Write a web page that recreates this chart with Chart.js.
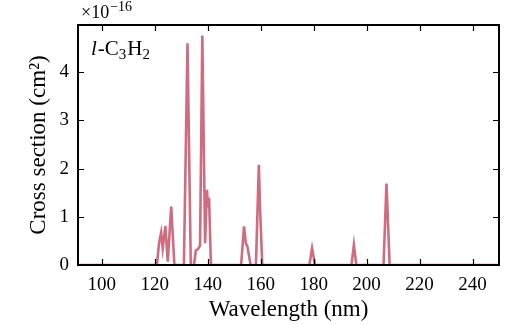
<!DOCTYPE html>
<html>
<head>
<meta charset="utf-8">
<script src="https://cdn.jsdelivr.net/npm/chart.js@4"></script>
<style>
  html, body { margin: 0; padding: 0; background: #fff; }
  #wrap { width: 525px; height: 324px; }
</style>
</head>
<body>
<div id="wrap"><canvas id="chart" width="525" height="324"></canvas></div>
<script>
// Absorption spectrum of l-C3H2, cross section in units of 1e-16 cm^2
const wavelength = [91, 120.8, 121.6, 122.4, 123.0, 124.0, 124.9, 126.2, 127.4,
  131.0, 132.35, 133.6, 134.8, 135.5, 136.3, 137.1, 137.95, 139.0, 139.7, 140.1, 140.5, 141.2,
  152.6, 153.7, 154.4, 155.0, 156.2, 158.2, 159.3, 159.8, 160.6,
  178.4, 179.4, 180.5, 194.3, 195.2, 196.1, 206.4, 207.5, 208.7, 250];
const crossSection = [0, 0, 0.45, 0.67, 0.35, 0.81, 0.07, 1.21, 0,
  0, 4.6, 0, 0, 0.3, 0.33, 0.4, 4.76, 0.45, 1.56, 1.2, 1.4, 0,
  0, 0.8, 0.45, 0.38, 0, 0, 2.08, 1.1, 0,
  0, 0.35, 0, 0, 0.42, 0, 0, 1.69, 0, 0];

const xTicks = [100, 120, 140, 160, 180, 200, 220, 240];
const yTicks = [0, 1, 2, 3, 4];

const serif = '"Liberation Serif", "DejaVu Serif", serif';

// matplotlib-like frame with inward ticks, plus the text annotations
const framePlugin = {
  id: 'frame',
  afterDatasetsDraw(chart) {
    const { ctx, chartArea: a, scales } = chart;
    ctx.save();
    ctx.strokeStyle = '#000';
    ctx.lineWidth = 1.2;
    const tl = 6;
    ctx.beginPath();
    xTicks.forEach(v => {
      const px = Math.round(scales.x.getPixelForValue(v)) + 0.5;
      ctx.moveTo(px, a.bottom); ctx.lineTo(px, a.bottom - tl);
      ctx.moveTo(px, a.top); ctx.lineTo(px, a.top + tl);
    });
    yTicks.forEach(v => {
      const py = Math.round(scales.y.getPixelForValue(v)) + 0.5;
      ctx.moveTo(a.left, py); ctx.lineTo(a.left + tl, py);
      ctx.moveTo(a.right, py); ctx.lineTo(a.right - tl, py);
    });
    ctx.stroke();
    ctx.lineWidth = 2;
    ctx.strokeRect(a.left, a.top, a.right - a.left, a.bottom - a.top);

    // offset text above the y axis
    ctx.fillStyle = '#000';
    ctx.textBaseline = 'alphabetic';
    ctx.font = '18px ' + serif;
    ctx.fillText('\u00d710', a.left + 3, a.top - 7);
    const w1 = ctx.measureText('\u00d710').width;
    ctx.font = '14px ' + serif;
    ctx.fillText('\u221216', a.left + 4 + w1, a.top - 14);

    // molecule label
    let x = a.left + 13;
    const y = a.top + 30;
    ctx.font = 'italic 21px ' + serif;
    ctx.fillText('l', x, y); x += ctx.measureText('l').width + 1;
    ctx.font = '21px ' + serif;
    ctx.fillText('-C', x, y); x += ctx.measureText('-C').width;
    ctx.font = '15px ' + serif;
    ctx.fillText('3', x, y + 4); x += ctx.measureText('3').width + 1;
    ctx.font = '21px ' + serif;
    ctx.fillText('H', x, y); x += ctx.measureText('H').width;
    ctx.font = '15px ' + serif;
    ctx.fillText('2', x, y + 4);
    ctx.restore();
  }
};

const points = wavelength.map((w, i) => ({ x: w, y: crossSection[i] }));

new Chart(document.getElementById('chart').getContext('2d'), {
  type: 'line',
  data: {
    datasets: [{
      data: points,
      borderColor: 'rgba(202, 92, 114, 0.9)',
      borderWidth: 2.6,
      pointRadius: 0,
      tension: 0,
      fill: false
    }]
  },
  options: {
    responsive: false,
    animation: false,
    layout: { padding: { top: 25, right: 26, left: 0, bottom: 0 } },
    plugins: { legend: { display: false }, tooltip: { enabled: false } },
    scales: {
      x: {
        type: 'linear',
        min: 91,
        max: 250,
        afterBuildTicks: s => { s.ticks = xTicks.map(v => ({ value: v })); },
        afterFit: s => { s.height = 59; },
        grid: { display: false, drawTicks: false },
        border: { display: false },
        ticks: { color: '#000', font: { family: serif, size: 19 }, padding: 9, maxRotation: 0 },
        title: { display: true, text: 'Wavelength (nm)', color: '#000', font: { family: serif, size: 23 }, padding: { top: 0, bottom: 0 } }
      },
      y: {
        min: 0,
        max: 4.98,
        afterBuildTicks: s => { s.ticks = yTicks.map(v => ({ value: v })); },
        afterFit: s => { s.width = 78; },
        grid: { display: false, drawTicks: false },
        border: { display: false },
        ticks: { color: '#000', font: { family: serif, size: 19 }, padding: 9 },
        title: { display: true, text: 'Cross section (cm\u00b2)', color: '#000', font: { family: serif, size: 23 }, padding: { top: 25, bottom: 0 } }
      }
    }
  },
  plugins: [framePlugin]
});
</script>
</body>
</html>
